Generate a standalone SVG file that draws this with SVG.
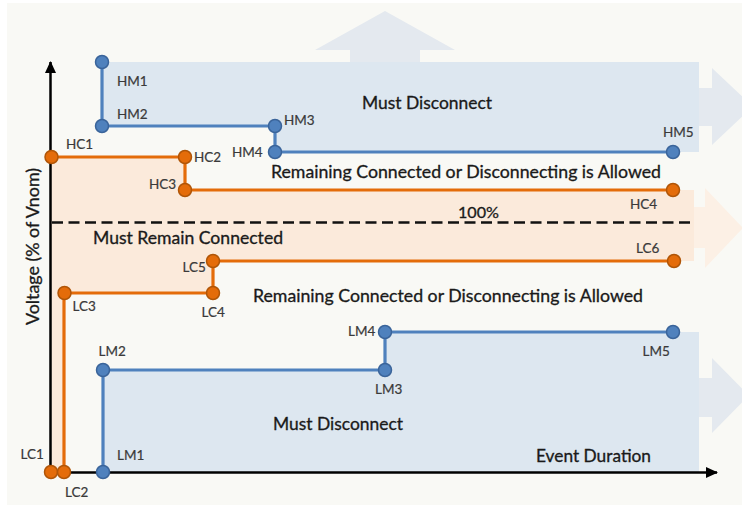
<svg xmlns="http://www.w3.org/2000/svg" width="742" height="507" viewBox="0 0 742 507">
<style>
.big{font-family:Lato,"Liberation Sans",sans-serif;font-size:16.5px;fill:#1a1a1a;stroke:#1a1a1a;stroke-width:0.3}
.lbl{font-family:Lato,"Liberation Sans",sans-serif;font-size:13.5px;fill:#3a3a3a;stroke:#3a3a3a;stroke-width:0.2}
.bm{fill:#4f81bd;stroke:#3a649a;stroke-width:1.5}
.oc{fill:#e46c0a;stroke:#b05507;stroke-width:1.5}
.bl{fill:none;stroke:#4f81bd;stroke-width:3.2;stroke-linejoin:miter}
.ol{fill:none;stroke:#e46c0a;stroke-width:3.2;stroke-linejoin:miter}
.ax{fill:none;stroke:#000;stroke-width:2.5}
.barrow{fill:#e4e9ef}
.oarrow{fill:#fcf0e5}
.bband{fill:#dde7f0}
.oband{fill:#fbeadb}
</style>
<defs>
<marker id="ah" markerWidth="12" markerHeight="12" viewBox="0 0 12 12" refX="11" refY="6" orient="auto" markerUnits="userSpaceOnUse">
<path d="M0,0.5 L12,6 L0,11.5 Z" fill="#000"/>
</marker>
</defs>
<rect x="0" y="0" width="742" height="507" fill="#ffffff"/>
<rect x="7" y="3" width="735" height="502" fill="#f9f9f5"/>
<g id="regions">
<polygon class="barrow" points="350,62 350,50 315,50 385,11 455,50 420,50 420,62"/>
<polygon class="barrow" points="699,88 712,88 712,68 753,106.5 712,145 712,126 699,126"/>
<polygon class="oarrow" points="694,207 705,207 705,188 743,228 705,268 705,248 694,248"/>
<polygon class="barrow" points="699,378 712,378 712,358 749,395.5 712,433 712,417 699,417"/>
<polygon class="bband" points="102,62 699,62 699,152 275,152 275,126 102,126"/>
<polygon class="oband" points="51,157 185,157 185,190 694,190 694,261 213,261 213,293 64,293 64,472 51,472"/>
<polygon class="bband" points="103,472 103,370 385,370 385,332 699,332 699,472"/>
</g>
<g id="axes">
<line class="ax" x1="50.5" y1="474" x2="50.5" y2="62" marker-end="url(#ah)"/>
<line class="ax" x1="49" y1="472.5" x2="717" y2="472.5" marker-end="url(#ah)"/>
<line x1="52" y1="222.5" x2="690" y2="222.5" stroke="#111" stroke-width="2.5" stroke-dasharray="11 5.5"/>
</g>
<g id="connectors">
<polyline class="bl" points="102,62 102,126 275,126 275,152 673,152"/>
<polyline class="ol" points="51.5,157 185,157 185,190 673,190"/>
<polyline class="ol" points="51,472 64,472 64,293 213,293 213,261 674,261"/>
<polyline class="bl" points="103,472 103,370 385,370 385,332 673,332"/>
</g>
<g id="HM1"><circle class="bm" cx="102" cy="62" r="6.5"/><text class="lbl" x="117" y="86">HM1</text></g>
<g id="HM2"><circle class="bm" cx="102" cy="126" r="6.5"/><text class="lbl" x="117" y="118.5">HM2</text></g>
<g id="HM3"><circle class="bm" cx="275" cy="126" r="6.5"/><text class="lbl" x="284" y="124.5">HM3</text></g>
<g id="HM4"><circle class="bm" cx="275" cy="152" r="6.5"/><text class="lbl" x="232" y="157">HM4</text></g>
<g id="HM5"><circle class="bm" cx="673" cy="152" r="6.5"/><text class="lbl" x="663" y="137">HM5</text></g>
<g id="HC1"><circle class="oc" cx="51.5" cy="157" r="6.5"/><text class="lbl" x="66" y="149">HC1</text></g>
<g id="HC2"><circle class="oc" cx="185" cy="157" r="6.5"/><text class="lbl" x="194" y="162">HC2</text></g>
<g id="HC3"><circle class="oc" cx="185" cy="190" r="6.5"/><text class="lbl" x="149" y="189">HC3</text></g>
<g id="HC4"><circle class="oc" cx="673" cy="190" r="6.5"/><text class="lbl" x="630" y="208.5">HC4</text></g>
<g id="LC1"><circle class="oc" cx="51" cy="472" r="6.5"/><text class="lbl" x="20.5" y="458.5">LC1</text></g>
<g id="LC2"><circle class="oc" cx="64" cy="472" r="6.5"/><text class="lbl" x="65" y="496.5">LC2</text></g>
<g id="LC3"><circle class="oc" cx="64.5" cy="293" r="6.5"/><text class="lbl" x="72.5" y="310.5">LC3</text></g>
<g id="LC4"><circle class="oc" cx="213" cy="293" r="6.5"/><text class="lbl" x="201.5" y="316.5">LC4</text></g>
<g id="LC5"><circle class="oc" cx="213" cy="261" r="6.5"/><text class="lbl" x="182.5" y="271.5">LC5</text></g>
<g id="LC6"><circle class="oc" cx="674" cy="261" r="6.5"/><text class="lbl" x="636" y="253">LC6</text></g>
<g id="LM1"><circle class="bm" cx="103" cy="472" r="6.5"/><text class="lbl" x="117" y="459.5">LM1</text></g>
<g id="LM2"><circle class="bm" cx="103" cy="370" r="6.5"/><text class="lbl" x="98.5" y="356">LM2</text></g>
<g id="LM3"><circle class="bm" cx="385" cy="370" r="6.5"/><text class="lbl" x="375" y="394">LM3</text></g>
<g id="LM4"><circle class="bm" cx="385" cy="332" r="6.5"/><text class="lbl" x="348" y="336">LM4</text></g>
<g id="LM5"><circle class="bm" cx="673" cy="332" r="6.5"/><text class="lbl" x="642.5" y="356">LM5</text></g>
<g id="labels">
<text class="big" x="362" y="108.5" textLength="130" lengthAdjust="spacingAndGlyphs">Must Disconnect</text>
<text class="big" x="271" y="178" textLength="390" lengthAdjust="spacingAndGlyphs">Remaining Connected or Disconnecting is Allowed</text>
<text class="big" x="458" y="217.5" textLength="41" lengthAdjust="spacingAndGlyphs" style="font-size:15px">100%</text>
<text class="big" x="93" y="243.5" textLength="190" lengthAdjust="spacingAndGlyphs">Must Remain Connected</text>
<text class="big" x="253" y="302" textLength="390" lengthAdjust="spacingAndGlyphs">Remaining Connected or Disconnecting is Allowed</text>
<text class="big" x="273" y="430" textLength="130" lengthAdjust="spacingAndGlyphs">Must Disconnect</text>
<text class="big" x="536" y="462" textLength="115" lengthAdjust="spacingAndGlyphs">Event Duration</text>
<text class="big" transform="translate(39,246.5) rotate(-90)" text-anchor="middle" textLength="157" lengthAdjust="spacingAndGlyphs">Voltage (% of Vnom)</text>
</g>
</svg>
